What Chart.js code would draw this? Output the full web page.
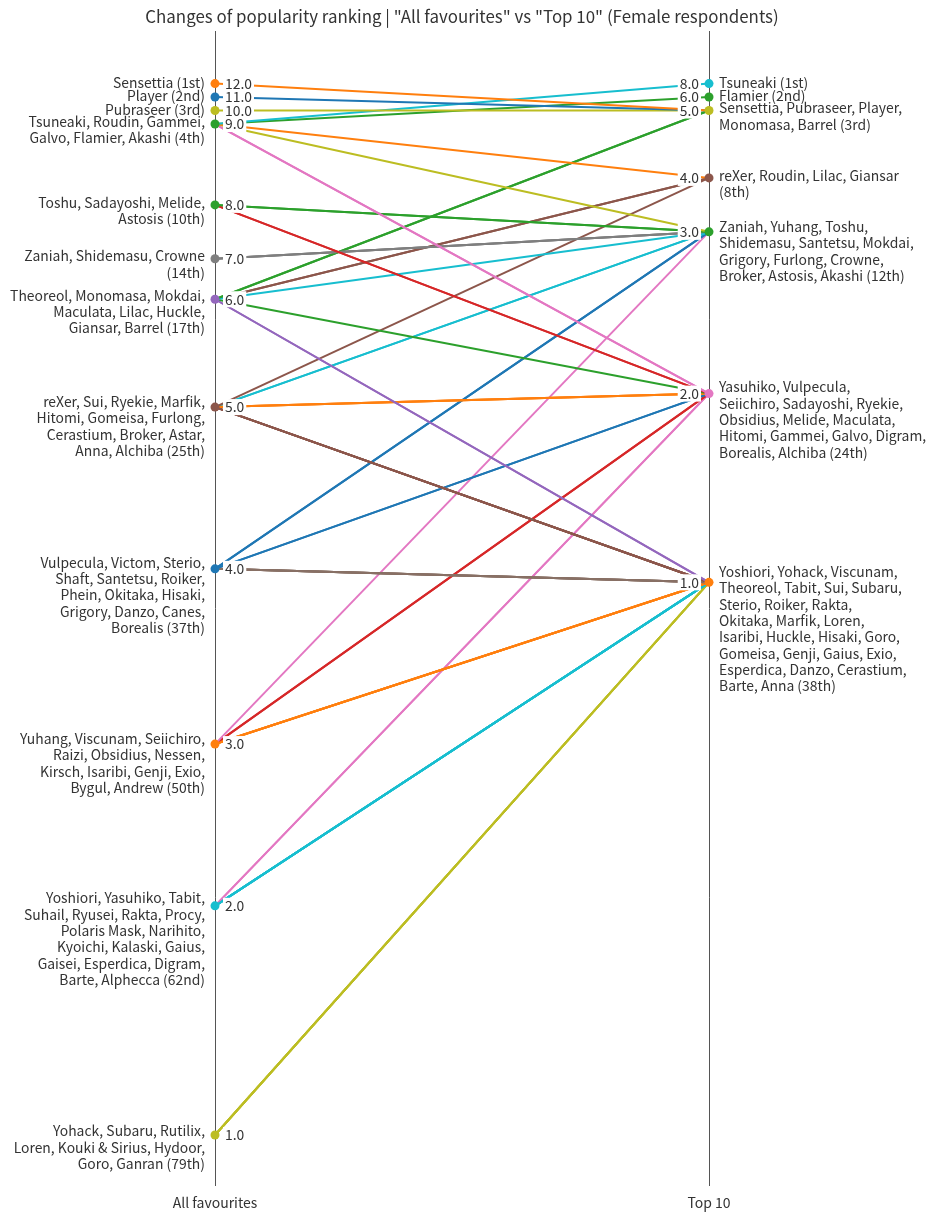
<!DOCTYPE html>
<html>
<head>
<meta charset="utf-8">
<script src="https://cdn.jsdelivr.net/npm/chart.js@4"></script>
<style>
    body { margin: 0; background: #fff; }
    #wrap { width: 936px; height: 1220px; }
</style>
</head>
<body>
<div id="wrap"><canvas id="myChart"></canvas></div>
<script>
/* data */

const titleText = 'Changes of popularity ranking | "All favourites" vs "Top 10" (Female respondents)';
const axisLabels = ['All favourites', 'Top 10'];

const leftValues = [12, 11, 10, 9, 8, 7, 6, 5, 4, 3, 2, 1];
const leftNames = [
    ['Sensettia'],
    ['Player'],
    ['Pubraseer'],
    ['Tsuneaki', 'Roudin', 'Gammei', 'Galvo', 'Flamier', 'Akashi'],
    ['Toshu', 'Sadayoshi', 'Melide', 'Astosis'],
    ['Zaniah', 'Shidemasu', 'Crowne'],
    ['Theoreol', 'Monomasa', 'Mokdai', 'Maculata', 'Lilac', 'Huckle', 'Giansar', 'Barrel'],
    ['reXer', 'Sui', 'Ryekie', 'Marfik', 'Hitomi', 'Gomeisa', 'Furlong', 'Cerastium', 'Broker', 'Astar', 'Anna', 'Alchiba'],
    ['Vulpecula', 'Victom', 'Sterio', 'Shaft', 'Santetsu', 'Roiker', 'Phein', 'Okitaka', 'Hisaki', 'Grigory', 'Danzo', 'Canes', 'Borealis'],
    ['Yuhang', 'Viscunam', 'Seiichiro', 'Raizi', 'Obsidius', 'Nessen', 'Kirsch', 'Isaribi', 'Genji', 'Exio', 'Bygul', 'Andrew'],
    ['Yoshiori', 'Yasuhiko', 'Tabit', 'Suhail', 'Ryusei', 'Rakta', 'Procy', 'Polaris Mask', 'Narihito', 'Kyoichi', 'Kalaski', 'Gaius', 'Gaisei', 'Esperdica', 'Digram', 'Barte', 'Alphecca'],
    ['Yohack', 'Subaru', 'Rutilix', 'Loren', 'Kouki & Sirius', 'Hydoor', 'Goro', 'Ganran'],
];

const rightValues = [8, 6, 5, 4, 3, 2, 1];
const rightNames = [
    ['Tsuneaki'],
    ['Flamier'],
    ['Sensettia', 'Pubraseer', 'Player', 'Monomasa', 'Barrel'],
    ['reXer', 'Roudin', 'Lilac', 'Giansar'],
    ['Zaniah', 'Yuhang', 'Toshu', 'Shidemasu', 'Santetsu', 'Mokdai', 'Grigory', 'Furlong', 'Crowne', 'Broker', 'Astosis', 'Akashi'],
    ['Yasuhiko', 'Vulpecula', 'Seiichiro', 'Sadayoshi', 'Ryekie', 'Obsidius', 'Melide', 'Maculata', 'Hitomi', 'Gammei', 'Galvo', 'Digram', 'Borealis', 'Alchiba'],
    ['Yoshiori', 'Yohack', 'Viscunam', 'Theoreol', 'Tabit', 'Sui', 'Subaru', 'Sterio', 'Roiker', 'Rakta', 'Okitaka', 'Marfik', 'Loren', 'Isaribi', 'Huckle', 'Hisaki', 'Goro', 'Gomeisa', 'Genji', 'Gaius', 'Exio', 'Esperdica', 'Danzo', 'Cerastium', 'Barte', 'Anna'],
];

/* style */

const FONT = '"Noto Sans CJK JP", "Noto Sans", sans-serif';
const TEXT = '#333333';
const C = {
    blue: '#1f77b4', orange: '#ff7f0e', green: '#2ca02c', red: '#d62728', purple: '#9467bd',
    brown: '#8c564b', pink: '#e377c2', grey: '#7f7f7f', olive: '#bcbd22', cyan: '#17becf',
};

// colour of the line between a left value and a right value
const pairColors = {
    '12>5': C.orange, '11>5': C.blue, '10>5': C.olive,
    '9>8': C.cyan, '9>6': C.green, '9>4': C.orange, '9>2': C.pink, '9>3': C.olive,
    '8>3': C.green, '8>2': C.red,
    '7>3': C.grey,
    '6>1': C.purple, '6>5': C.green, '6>3': C.cyan, '6>2': C.green, '6>4': C.brown,
    '5>4': C.brown, '5>1': C.brown, '5>2': C.orange, '5>3': C.cyan,
    '4>2': C.blue, '4>3': C.blue, '4>1': '#887065',
    '3>3': C.pink, '3>1': C.orange, '3>2': C.red,
    '2>1': C.cyan, '2>2': C.pink,
    '1>1': C.olive,
};
const leftMarkerColors = [C.orange, C.blue, C.olive, C.green, C.green, C.grey, C.purple, C.brown, C.blue, C.orange, C.cyan, C.olive];
const rightMarkerColors = [C.cyan, C.green, C.olive, C.brown, C.green, C.pink, C.orange];

/* helpers */

function groupRanks(groups) {
    let r = 1;
    return groups.map((g) => {
        const cur = r;
        r += g.length;
        return cur;
    });
}

function ordinal(n) {
    const m = n % 100;
    if (m >= 11 && m <= 13) return n + 'th';
    const s = { 1: 'st', 2: 'nd', 3: 'rd' }[n % 10] || 'th';
    return n + s;
}

// plain textwrap, 30 characters
function wrap(text, width) {
    const lines = [];
    let cur = '';
    text.split(' ').forEach((w) => {
        if (!cur) cur = w;
        else if ((cur + ' ' + w).length <= width) cur += ' ' + w;
        else { lines.push(cur); cur = w; }
    });
    if (cur) lines.push(cur);
    return lines;
}

const leftRanks = groupRanks(leftNames);
const rightRanks = groupRanks(rightNames);

/* datasets */

let datasets = [];
leftNames.forEach((group, li) => {
    group.forEach((name) => {
        const ri = rightNames.findIndex((g) => g.includes(name));
        if (ri < 0) return;
        datasets.push({
            type: 'line',
            label: name,
            data: [{ x: 0, y: leftRanks[li] }, { x: 1, y: rightRanks[ri] }],
            borderColor: pairColors[leftValues[li] + '>' + rightValues[ri]],
            borderWidth: 2,
            pointRadius: 0,
            clip: false,
            order: 1,
        });
    });
});

const markerData = [];
const markerColors = [];
leftRanks.forEach((r, i) => { markerData.push({ x: 0, y: r }); markerColors.push(leftMarkerColors[i]); });
rightRanks.forEach((r, i) => { markerData.push({ x: 1, y: r }); markerColors.push(rightMarkerColors[i]); });

datasets.push({
    type: 'scatter',
    label: 'markers',
    data: markerData,
    pointRadius: 4.5,
    pointBackgroundColor: markerColors,
    pointBorderWidth: 0,
    clip: false,
    order: 0,
});

/* title and labels next to the axes */

const groupLabels = {
    id: 'groupLabels',
    afterDatasetsDraw(chart) {
        const ctx = chart.ctx;
        const xs = chart.scales.x;
        const ys = chart.scales.y;
        const area = chart.chartArea;
        ctx.save();

        ctx.font = '16.9px ' + FONT;
        ctx.fillStyle = TEXT;
        ctx.textAlign = 'center';
        ctx.textBaseline = 'middle';
        ctx.fillText(titleText, (area.left + area.right) / 2, 17);

        ctx.font = '13.9px ' + FONT;

        const sides = [
            { values: leftValues, names: leftNames, ranks: leftRanks, x: xs.getPixelForValue(0), dir: 1 },
            { values: rightValues, names: rightNames, ranks: rightRanks, x: xs.getPixelForValue(1), dir: -1 },
        ];

        sides.forEach((side) => {
            side.values.forEach((v, i) => {
                const py = ys.getPixelForValue(side.ranks[i]);

                // value with white box
                const txt = v.toFixed(1);
                const w = ctx.measureText(txt).width;
                const tx = side.dir > 0 ? side.x + 10 : side.x - 10 - w;
                ctx.fillStyle = '#ffffff';
                ctx.fillRect(tx - 2, py - 8, w + 4, 16);
                ctx.fillStyle = TEXT;
                ctx.textAlign = 'left';
                ctx.fillText(txt, tx, py);

                // names
                const lines = wrap(side.names[i].join(', ') + ' (' + ordinal(side.ranks[i]) + ')', 30);
                const y0 = py - 1.3 * lines.length;
                ctx.textAlign = side.dir > 0 ? 'right' : 'left';
                const nx = side.dir > 0 ? side.x - 10 : side.x + 10;
                lines.forEach((l, k) => ctx.fillText(l, nx, y0 + k * 16.3));
            });
        });
        ctx.restore();
    },
};

Chart.defaults.font.family = FONT;
Chart.defaults.color = TEXT;

const ctx = document.getElementById('myChart').getContext('2d');
const myChart = new Chart(ctx, {
    type: 'line',
    data: { datasets: datasets },
    options: {
        responsive: true,
        maintainAspectRatio: false,
        animation: false,
        layout: { padding: { left: 215, right: 227, top: 31, bottom: 1 } },
        plugins: {
            legend: { display: false },
            tooltip: { enabled: false },
            title: { display: false },
        },
        scales: {
            x: {
                type: 'linear',
                min: 0,
                max: 1,
                border: { display: false },
                grid: { color: '#555555', lineWidth: 1, drawTicks: false },
                ticks: {
                    stepSize: 1,
                    padding: 8,
                    color: TEXT,
                    font: { size: 14 },
                    callback: (v) => axisLabels[v] !== undefined ? axisLabels[v] : '',
                },
            },
            y: {
                type: 'linear',
                display: false,
                reverse: true,
                min: -2.9,
                max: 82.8,
            },
        },
    },
    plugins: [groupLabels],
});
</script>
</body>
</html>
